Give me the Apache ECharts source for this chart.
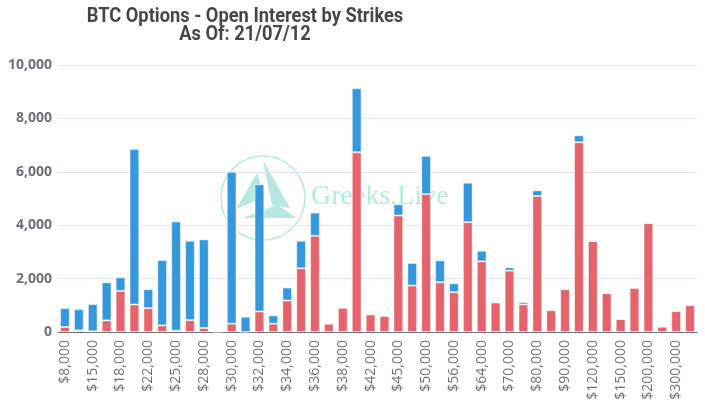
<!DOCTYPE html>
<html>
<head>
<meta charset="utf-8">
<script src="https://cdn.jsdelivr.net/npm/echarts@6/dist/echarts.min.js"></script>
<style>
html,body{margin:0;padding:0;background:#fff;}
#chart{width:705px;height:413px;}
</style>
</head>
<body>
<div id="chart"></div>
<script>
var strikes = [8000,10000,15000,16000,18000,20000,22000,24000,25000,26000,28000,29000,30000,31000,32000,33000,34000,35000,36000,37000,38000,40000,42000,44000,45000,48000,50000,52000,56000,60000,64000,65000,70000,75000,80000,85000,90000,100000,120000,140000,150000,160000,200000,250000,300000,400000];
var calls = [186,62,25,435,1540,1031,894,248,50,447,149,0,311,0,770,311,1180,2385,3602,311,907,6733,658,596,4360,1739,5168,1863,1491,4112,2646,1106,2298,1031,5093,820,1602,7106,3404,1453,484,1652,4075,199,783,1006];
var puts = [708,795,1018,1428,510,5826,708,2448,4087,2969,3317,30,5689,571,4758,310,485,1031,870,0,0,2397,0,38,423,845,1428,820,335,1478,397,49,124,87,211,0,0,260,0,0,0,0,0,0,0,0];
var yTicks = [0,2000,4000,6000,8000,10000];
var titleLines = ['BTC Options - Open Interest by Strikes', 'As Of: 21/07/12'];

var labels = strikes.map(function(s){ return '$' + s.toLocaleString('en-US'); });
var chart = echarts.init(document.getElementById('chart'));
var wm = 'rgba(150,222,212,0.7)';
chart.setOption({
  animation: false,
  graphic: [
    {type:'circle', z:-10, shape:{cx:263, cy:198, r:42}, style:{fill:'none', stroke:wm, lineWidth:1.5}},
    {type:'polygon', z:-10, shape:{points:[[263,160],[290,208],[272,205]]}, style:{fill:wm}},
    {type:'polygon', z:-10, shape:{points:[[257,173],[236,209],[265,197]]}, style:{fill:wm}},
    {type:'polygon', z:-10, shape:{points:[[243,218],[297,218],[277,205]]}, style:{fill:wm}},
    {type:'text', z:-10, left:311, top:183, style:{text:'Greeks.Live', fill:wm, font:'28px "Liberation Serif", serif'}},
    {type:'text', z:10, x:245, y:8, scaleX:0.87,
     style:{text: titleLines.join('\n'), font:'bold 21px Roboto', fill:'#464646', textAlign:'center', lineHeight:18}}
  ],
  grid: {left: 58, right: 8, top: 65, bottom: 81},
  xAxis: {
    type: 'category', data: labels,
    axisLine: {lineStyle: {color: '#6e7079'}},
    axisTick: {lineStyle: {color: '#6e7079'}},
    axisLabel: {interval: 1, rotate: 90, fontSize: 14, color: '#6e7079', fontFamily: 'Open Sans', margin: 8}
  },
  yAxis: {
    type: 'value', min: yTicks[0], max: yTicks[yTicks.length-1], interval: 2000,
    axisLabel: {fontSize: 14, color: '#6e7079', fontFamily: 'Open Sans', fontWeight: 'bold', margin: 6,
      formatter: function(v){ return v.toLocaleString('en-US'); }},
    splitLine: {lineStyle: {color: '#e0e6f1'}}
  },
  series: [
    {name: 'Calls', type: 'bar', stack: 'oi', data: calls, barWidth: '70%',
     itemStyle: {color: '#e5636a', borderColor: 'rgba(255,255,255,0.45)', borderWidth: 1}},
    {name: 'Puts', type: 'bar', stack: 'oi', data: puts, barWidth: '70%',
     itemStyle: {color: '#3498db', borderColor: 'rgba(255,255,255,0.45)', borderWidth: 1}}
  ]
});
</script>
</body>
</html>
